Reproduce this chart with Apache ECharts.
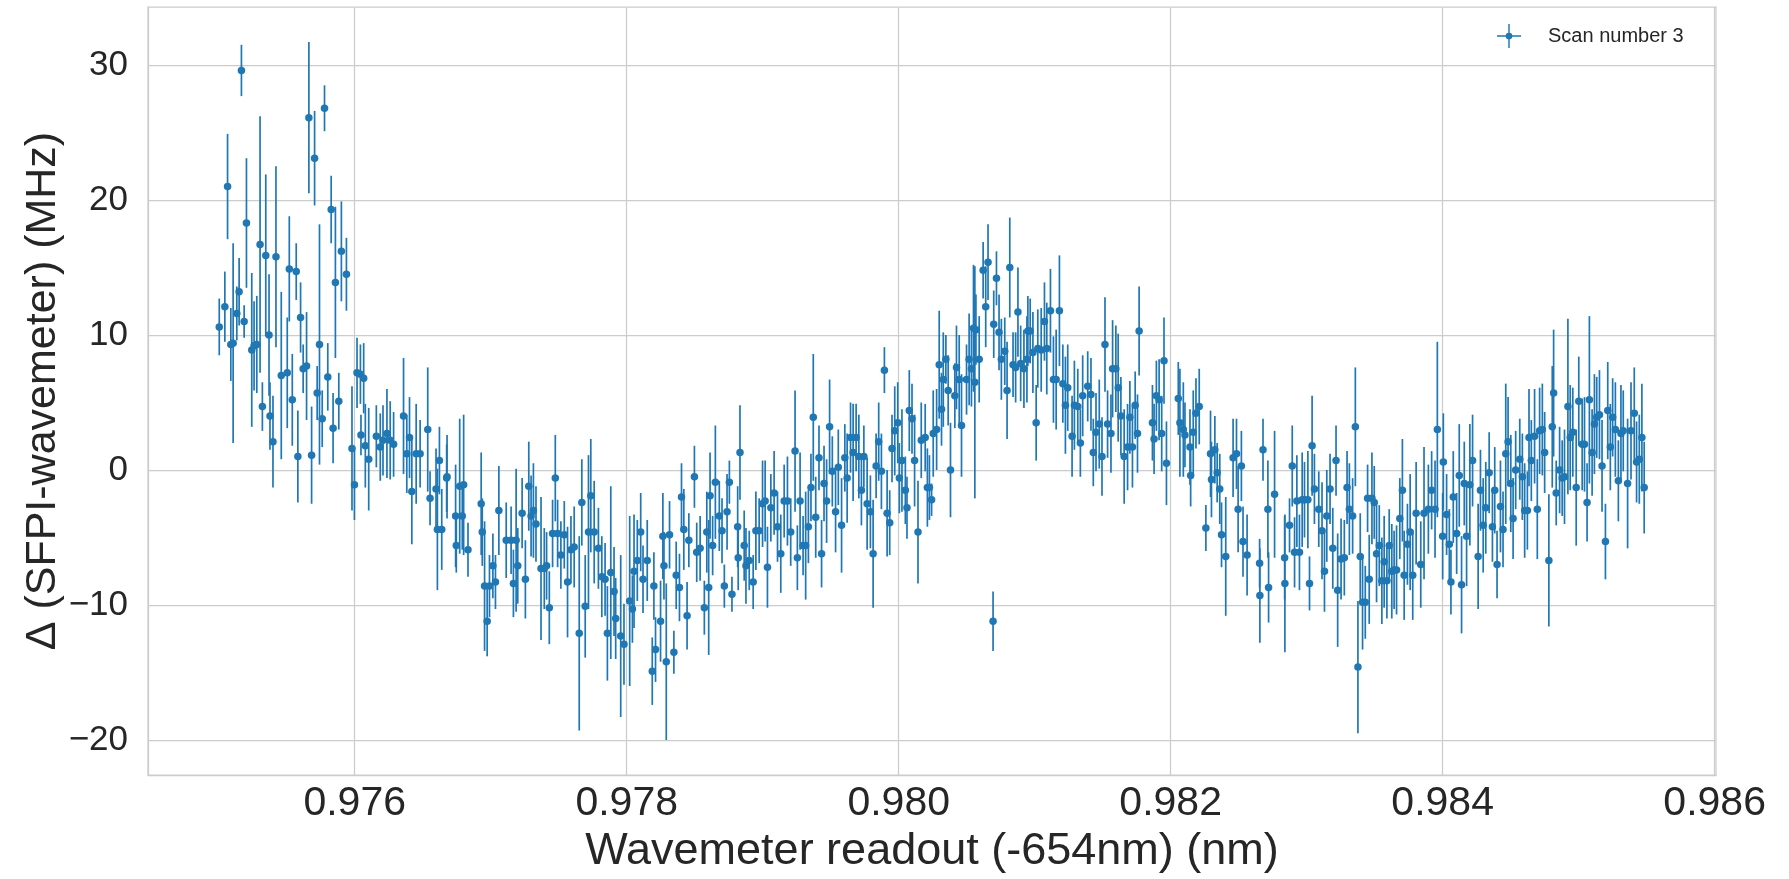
<!DOCTYPE html>
<html>
<head>
<meta charset="utf-8">
<title>Scan number 3</title>
<script src="https://cdn.jsdelivr.net/npm/echarts@6/dist/echarts.min.js"></script>
<style>
  html, body { margin: 0; padding: 0; background: #ffffff; }
  #chart { width: 1789px; height: 879px; }
</style>
</head>
<body>
<div id="chart"></div>
<script>
// Scan 3: [wavemeter readout (nm, -654nm offset), Δ SFPI-wavemeter (MHz), uncertainty (MHz)]
const scanPart1 = [
  [0.975004,10.6,2.1],[0.975045,12.1,2.6],[0.975065,21.0,3.9],[0.975089,9.3,2.7],[0.975106,9.4,7.4],
  [0.975133,11.6,2.0],[0.975150,13.2,2.5],[0.975167,29.6,1.9],[0.975187,11.0,1.2],[0.975204,18.3,4.8],
  [0.975243,8.9,5.7],[0.975260,9.2,3.3],[0.975280,9.3,3.6],[0.975304,16.7,9.5],[0.975321,4.7,1.8],
  [0.975346,15.9,6.0],[0.975370,10.0,4.5],[0.975377,4.0,2.5],[0.975399,2.1,3.4],[0.975421,15.8,6.7],
  [0.975460,7.0,6.2],[0.975504,7.2,4.1],[0.975519,14.9,3.9],[0.975541,5.2,3.4],[0.975570,14.7,2.1],
  [0.975582,1.0,3.4],[0.975602,11.3,2.6],[0.975621,7.5,1.8],[0.975646,7.7,4.0],[0.975663,26.1,5.6],
  [0.975683,1.1,3.6],[0.975705,23.1,3.5],[0.975724,5.7,2.0],[0.975741,9.3,8.9],[0.975761,3.8,2.1],
  [0.975778,26.8,1.7],[0.975802,6.9,2.5],[0.975827,19.3,2.5],[0.975841,3.1,2.6],[0.975858,13.9,5.6],
  [0.975883,5.1,2.1],[0.975902,16.2,3.7],[0.975939,14.5,2.7],[0.975980,1.6,4.6],[0.975998,-1.1,2.6],
  [0.976017,7.2,2.6],[0.976042,7.1,2.2],[0.976046,2.6,1.5],[0.976066,6.8,2.6],[0.976078,1.8,3.1],
  [0.976103,0.8,3.8],[0.976159,2.5,2.3],[0.976188,1.7,2.5],[0.976208,2.2,2.6],[0.976237,2.7,3.3],
  [0.976261,2.2,2.9],[0.976286,1.9,2.4],[0.976359,4.0,4.3],[0.976383,1.2,2.9],[0.976403,2.4,3.0],
  [0.976420,-1.6,3.9],[0.976452,1.2,3.7],[0.976481,1.2,2.5],[0.976537,3.0,4.6],[0.976554,-2.1,2.0],
  [0.976598,-1.4,3.0],[0.976608,-4.4,4.5],[0.976623,0.7,2.5],[0.976640,-4.4,3.0],[0.976676,-0.6,2.5]
];
const scanPart2 = [
  [0.976679,-0.5,3.1],[0.976742,-3.4,3.8],[0.976747,-5.6,2.0],[0.976772,-1.2,5.0],[0.976791,-3.4,2.5],
  [0.976801,-1.1,5.2],[0.976833,-5.9,2.0],[0.976930,-2.5,3.8],[0.976938,-4.6,2.5],[0.976955,-8.6,4.8],
  [0.976974,-11.2,2.6],[0.976991,-8.6,2.3],[0.977016,-7.1,2.4],[0.977035,-8.3,2.0],[0.977060,-3.0,3.3],
  [0.977114,-5.2,2.8],[0.977150,-5.2,2.5],[0.977167,-8.4,2.5],[0.977187,-5.2,5.3],[0.977199,-7.1,2.8],
  [0.977231,-3.2,2.6],[0.977255,-8.1,2.9],[0.977280,-1.2,3.3],[0.977297,-3.4,3.0],[0.977314,-3.0,3.5],
  [0.977333,-4.0,2.8],[0.977370,-7.3,5.3],[0.977394,-7.3,3.0],[0.977411,-7.1,2.5],[0.977431,-10.2,2.7],
  [0.977455,-4.7,2.5],[0.977475,-0.6,3.2],[0.977492,-4.7,2.5],[0.977516,-6.3,2.5],[0.977541,-4.8,2.5],
  [0.977565,-8.3,4.1],[0.977590,-5.9,2.5],[0.977614,-5.7,3.0],[0.977651,-12.1,7.2],[0.977670,-2.4,3.2],
  [0.977695,-10.1,3.8],[0.977719,-4.6,5.7],[0.977736,-1.9,4.2],[0.977761,-4.6,3.8],[0.977792,-5.8,3.0],
  [0.977817,-7.9,3.0],[0.977841,-8.1,2.7],[0.977858,-12.1,3.5],[0.977883,-7.6,6.4],[0.977907,-9.0,3.3],
  [0.977919,-11.0,3.0],[0.977956,-12.3,6.0],[0.977980,-12.9,3.0],[0.978022,-9.7,6.3],[0.978042,-10.3,2.5],
  [0.978054,-7.5,4.2],[0.978078,-6.7,3.0],[0.978103,-4.6,2.9],[0.978120,-8.1,2.5],[0.978151,-6.7,3.0],
  [0.978188,-14.9,2.5],[0.978200,-8.6,2.5],[0.978212,-13.3,2.4],[0.978249,-11.2,3.0],[0.978266,-4.9,3.2],
  [0.978274,-7.1,2.5],[0.978291,-14.2,5.8],[0.978315,-4.8,2.5],[0.978347,-13.5,1.6],[0.978364,-7.8,2.5],
  [0.978388,-8.7,2.5],[0.978403,-2.0,2.5],[0.978420,-4.4,3.0],[0.978444,-10.8,2.5]
];
const scanPart3 = [
  [0.978457,-5.2,2.0],[0.978498,-0.5,2.3],[0.978515,-6.1,2.2],[0.978540,-5.8,2.4],[0.978571,-10.2,2.0],
  [0.978589,-4.6,3.0],[0.978603,-8.7,5.0],[0.978613,-1.9,3.2],[0.978632,-5.6,2.2],[0.978652,-0.9,4.2],
  [0.978681,-3.4,2.6],[0.978701,-4.5,2.4],[0.978718,-8.6,1.6],[0.978738,-3.1,2.8],[0.978755,-0.9,1.6],
  [0.978774,-9.2,1.3],[0.978816,-4.2,3.0],[0.978820,-6.5,2.4],[0.978833,1.3,3.5],[0.978864,-5.6,2.6],
  [0.978877,-7.1,2.8],[0.978901,-6.7,2.2],[0.978930,-8.3,2.0],[0.978950,-4.5,2.9],[0.978974,-4.5,2.4],
  [0.978999,-2.5,3.2],[0.979018,-2.3,3.0],[0.979035,-7.2,3.0],[0.979060,-2.8,2.5],[0.979084,-1.7,3.1],
  [0.979109,-4.2,2.6],[0.979133,-6.2,2.9],[0.979158,-2.3,2.7],[0.979182,-2.3,3.3],[0.979206,-4.6,2.5],
  [0.979238,1.4,4.5],[0.979255,-6.5,2.4],[0.979275,-2.3,3.6],[0.979297,-5.6,2.2],[0.979316,-5.6,4.0],
  [0.979336,-4.2,2.7],[0.979355,-1.3,2.5],[0.979372,3.9,4.7],[0.979390,-3.5,3.0],[0.979414,0.9,2.4],
  [0.979433,-6.2,2.5],[0.979451,-1.0,2.8],[0.979470,-2.3,3.1],[0.979492,3.2,3.5],[0.979512,-0.1,2.6],
  [0.979536,-3.1,3.0],[0.979556,0.2,2.8],[0.979580,-4.1,3.5],[0.979604,0.9,2.5],[0.979621,-0.6,3.3],
  [0.979646,2.4,2.6],[0.979665,1.3,3.6],[0.979687,2.4,2.5],[0.979707,1.0,3.1],[0.979726,-1.5,2.6],
  [0.979744,1.0,2.3],[0.979768,-2.5,3.4],[0.979792,-3.1,2.7],[0.979812,-6.2,4.0],[0.979834,0.3,2.4],
  [0.979853,2.1,2.9],[0.979873,-0.1,2.8],[0.979895,7.4,1.7],[0.979915,-3.2,3.2],[0.979934,-3.9,2.4],
  [0.979951,1.6,2.5],[0.979971,2.9,3.3],[0.979993,3.5,3.0],[0.980005,-0.6,2.6],[0.980024,0.7,3.8],
  [0.980049,-1.5,2.5],[0.980061,-2.8,2.3],[0.980078,4.4,3.0],[0.980098,3.8,2.6],[0.980117,0.7,3.4],
  [0.980142,-4.6,3.8],[0.980166,2.2,2.8],[0.980195,2.4,2.5]
];
const scanPart4 = [
  [0.980211,-1.3,2.9],[0.980226,-1.3,2.4],[0.980242,-2.2,1.2],[0.980254,2.7,3.2],[0.980279,3.0,3.0],
  [0.980298,7.8,4.0],[0.980315,4.5,2.7],[0.980328,6.7,3.5],[0.980347,8.2,1.8],[0.980364,5.9,2.6],
  [0.980381,0.0,3.5],[0.980413,5.5,2.4],[0.980425,7.6,3.1],[0.980445,6.7,3.3],[0.980462,3.3,3.8],
  [0.980499,6.7,2.6],[0.980518,8.2,3.4],[0.980535,7.5,2.8],[0.980550,10.5,4.7],[0.980560,6.5,8.6],
  [0.980568,10.4,2.6],[0.980592,8.2,3.2],[0.980621,14.8,2.1],[0.980640,12.1,3.0],[0.980657,15.4,2.8],
  [0.980694,-11.2,2.2],[0.980699,10.8,2.5],[0.980719,14.2,2.0],[0.980738,10.2,2.8],[0.980755,8.2,3.0],
  [0.980780,8.8,2.5],[0.980797,5.9,3.6],[0.980817,15.0,3.7],[0.980841,7.8,2.4],[0.980860,7.6,2.6],
  [0.980877,11.7,3.3],[0.980897,7.9,2.8],[0.980921,7.5,2.9],[0.980943,8.2,3.2],[0.980950,10.3,2.6],
  [0.980967,10.3,2.4],[0.980987,8.7,3.0],[0.981011,3.5,2.8],[0.981023,9.0,2.9],[0.981048,8.9,3.1],
  [0.981072,11.0,2.9],[0.981089,9.0,3.4],[0.981116,11.8,3.1],[0.981138,6.7,3.2],[0.981158,6.7,3.7],
  [0.981182,11.8,4.1],[0.981207,6.4,2.9],[0.981226,4.8,3.6],[0.981243,6.1,3.2],[0.981275,2.5,3.0],
  [0.981292,4.8,3.3],[0.981317,4.7,2.8],[0.981336,2.0,2.5],[0.981353,5.5,3.0],[0.981390,6.2,2.6],
  [0.981414,5.6,2.7],[0.981431,1.3,2.5],[0.981451,2.8,2.9],[0.981475,3.4,3.3],[0.981495,1.0,2.9],
  [0.981517,9.3,3.5],[0.981536,3.4,2.5],[0.981561,2.7,2.9],[0.981573,7.5,3.6],[0.981597,7.5,3.2],
  [0.981614,6.1,4.0],[0.981634,4.0,2.9],[0.981658,1.0,3.5],[0.981683,1.7,3.2],[0.981700,3.9,2.7],
  [0.981719,1.7,3.0],[0.981739,4.8,2.5],[0.981756,2.7,2.9],[0.981768,10.3,3.3],[0.981866,3.5,2.8],
  [0.981878,2.3,2.6],[0.981895,5.5,2.6],[0.981915,5.2,3.0],[0.981934,2.7,2.8],[0.981951,8.1,3.2],
  [0.981969,0.5,3.1]
];
const scanPart5 = [
  [0.982056,5.3,2.7],[0.982068,3.5,4.0],[0.982093,3.0,3.5],[0.982105,2.6,2.4],[0.982142,1.7,2.8],
  [0.982147,-0.4,2.3],[0.982166,2.8,3.1],[0.982186,4.2,2.6],[0.982210,4.7,2.8],[0.982259,-4.3,1.7],
  [0.982293,1.2,3.2],[0.982300,-0.7,2.8],[0.982325,1.5,2.5],[0.982342,-0.2,2.2],[0.982361,-1.4,2.6],
  [0.982374,-4.8,2.4],[0.982405,-6.4,4.4],[0.982459,0.9,2.9],[0.982484,1.2,2.6],[0.982496,-2.9,3.2],
  [0.982520,0.3,2.6],[0.982532,-5.3,2.6],[0.982562,-6.3,3.0],[0.982654,-6.9,1.8],[0.982656,-9.3,3.5],
  [0.982679,1.5,2.3],[0.982715,-2.9,3.6],[0.982720,-8.7,2.6],[0.982764,-1.8,4.7],[0.982838,-6.5,3.1],
  [0.982840,-8.4,5.1],[0.982874,-4.1,2.0],[0.982894,0.3,3.0],[0.982911,-6.1,2.6],[0.982928,-2.3,3.4],
  [0.982947,-6.1,2.8],[0.982967,-2.2,3.5],[0.982984,-2.2,2.8],[0.983009,-2.2,3.6],[0.983021,-8.4,2.0],
  [0.983040,1.8,3.7],[0.983057,-1.4,2.6],[0.983089,-2.9,2.8],[0.983113,-4.5,3.6],[0.983131,-7.5,3.0],
  [0.983148,-3.4,3.4],[0.983172,-1.4,2.6],[0.983192,-5.8,3.0],[0.983216,0.7,2.6],[0.983228,-8.9,4.2],
  [0.983253,-6.6,3.0],[0.983277,-6.5,2.8],[0.983297,-1.3,2.7],[0.983314,-2.9,3.4],[0.983338,-3.4,2.8],
  [0.983358,3.2,4.4],[0.983377,-14.6,4.9],[0.983394,-6.4,3.2],[0.983411,-9.8,3.5],[0.983431,-9.8,2.7],
  [0.983448,-2.1,2.5],[0.983460,-8.1,3.3],[0.983480,-2.1,3.4],[0.983497,-2.4,2.7],[0.983514,-6.2,3.6],
  [0.983534,-5.6,3.0],[0.983553,-8.2,3.2],[0.983570,-6.8,3.4],[0.983590,-8.2,2.8],[0.983607,-5.6,2.7],
  [0.983626,-7.5,3.5],[0.983643,-7.4,2.9],[0.983661,-7.4,3.3],[0.983685,-3.6,3.0],[0.983704,-1.5,3.8],
  [0.983717,-7.8,3.3]
];
const scanPart6 = [
  [0.983741,-5.5,3.0],[0.983761,-4.6,4.3],[0.983780,-7.8,3.3],[0.983805,-3.2,3.8],[0.983839,-7.0,3.2],
  [0.983863,-3.2,4.9],[0.983895,-2.9,3.3],[0.983919,-1.5,2.9],[0.983944,-2.9,3.6],[0.983961,3.0,6.5],
  [0.984000,-4.9,3.2],[0.984005,0.6,3.6],[0.984029,-3.3,3.0],[0.984049,-5.5,2.6],[0.984061,-8.3,2.4],
  [0.984078,-2.0,3.4],[0.984103,-4.7,3.0],[0.984122,-0.4,3.8],[0.984139,-8.5,3.6],[0.984159,-1.0,3.1],
  [0.984176,-4.9,3.7],[0.984200,-1.1,4.5],[0.984220,0.7,3.4],[0.984261,-6.4,3.9],[0.984278,-1.5,3.0],
  [0.984298,-4.1,3.5],[0.984317,-2.8,3.4],[0.984342,-0.2,3.0],[0.984366,-4.2,2.6],[0.984383,-1.5,3.2],
  [0.984400,-7.0,2.5],[0.984425,-2.7,3.4],[0.984444,-4.4,2.8],[0.984464,1.2,5.2],[0.984481,2.1,3.3],
  [0.984501,-1.0,3.6],[0.984518,-3.6,3.0],[0.984537,0.0,2.9],[0.984567,0.8,3.0],[0.984586,-0.5,3.2],
  [0.984603,-3.0,3.5],[0.984623,-3.0,2.9],[0.984635,2.4,3.6],[0.984652,0.7,3.0],[0.984676,2.5,3.5],
  [0.984696,-2.9,3.7],[0.984713,2.9,3.2],[0.984733,3.0,3.4],[0.984750,1.3,3.0],[0.984781,-6.7,4.9],
  [0.984806,3.2,4.5],[0.984816,5.7,4.7],[0.984835,-1.7,2.4],[0.984860,0.0,3.2],[0.984879,-0.6,2.8],
  [0.984896,-0.5,3.5],[0.984921,4.7,6.5],[0.984938,2.4,3.9],[0.984957,2.8,3.3],[0.984982,-1.3,4.3],
  [0.985001,5.1,3.3],[0.985026,1.9,3.4],[0.985043,1.9,3.5],[0.985062,-2.4,2.9],[0.985079,5.2,6.2],
  [0.985099,1.3,3.2],[0.985116,3.4,3.7],[0.985133,3.9,3.0],[0.985153,4.1,3.3],[0.985172,0.3,3.4],
  [0.985197,-5.3,2.8],[0.985214,4.4,3.6],[0.985233,1.7,3.2],[0.985250,3.9,2.9],[0.985270,3.0,3.5],
  [0.985292,-0.8,3.0],[0.985311,2.7,3.6],[0.985328,2.9,3.0],[0.985360,-1.0,4.8],[0.985385,2.9,3.6],
  [0.985409,4.2,3.4],[0.985426,0.6,3.0],[0.985446,0.8,3.3],[0.985465,2.4,4.0],[0.985482,-1.3,3.4]
];

const xTicks = [0.976, 0.978, 0.980, 0.982, 0.984, 0.986];
const yTicks = [-20, -10, 0, 10, 20, 30];
const seriesName = 'Scan number 3';

const scan = [].concat(scanPart1, scanPart2, scanPart3, scanPart4, scanPart5, scanPart6);

const BLUE = '#1f77b4';
const GRID = '#cccccc';
const TEXT = '#262626';
const FONT = '"Liberation Sans", Arial, Helvetica, sans-serif';

const chart = echarts.init(document.getElementById('chart'), null, { renderer: 'canvas' });

chart.setOption({
  animation: false,
  backgroundColor: '#ffffff',
  textStyle: { fontFamily: FONT },
  grid: {
    left: 148, right: 73, top: 7, bottom: 94,
    show: true, borderColor: GRID, borderWidth: 1.25, backgroundColor: '#ffffff'
  },
  legend: {
    left: 1492, top: 19,
    itemWidth: 24, itemHeight: 26,
    itemGap: 0,
    data: [{
      name: seriesName,
      icon: 'path://M0,47L100,47L100,53L0,53Z M47,0L53,0L53,100L47,100Z M50,36A14,14 0 1,1 49.9,36Z',
      itemStyle: { color: BLUE }
    }],
    textStyle: { fontSize: 20, color: TEXT, fontFamily: FONT, padding: [0, 0, 0, 22] }
  },
  xAxis: {
    type: 'value',
    min: 0.97448, max: 0.98601,
    name: 'Wavemeter readout (-654nm) (nm)',
    nameLocation: 'middle', nameGap: 46,
    nameTextStyle: { fontSize: 45, color: TEXT, fontFamily: FONT },
    axisLine: { show: true, onZero: false, lineStyle: { color: GRID, width: 1.25 } },
    axisTick: { show: false, customValues: xTicks },
    axisLabel: {
      customValues: xTicks, fontSize: 41, color: TEXT, fontFamily: FONT, margin: 8,
      formatter: v => v.toFixed(3)
    },
    splitLine: { show: true, lineStyle: { color: GRID, width: 1.25 } }
  },
  yAxis: {
    type: 'value',
    min: -22.6, max: 34.3,
    name: 'Δ (SFPI-wavemeter) (MHz)',
    nameLocation: 'middle', nameGap: 83, nameRotate: 90,
    nameMoveOverlap: false,
    nameTextStyle: { fontSize: 43, color: TEXT, fontFamily: FONT },
    axisLine: { show: true, onZero: false, lineStyle: { color: GRID, width: 1.25 } },
    axisTick: { show: false, customValues: yTicks },
    axisLabel: {
      customValues: yTicks, fontSize: 35, color: TEXT, fontFamily: FONT, margin: 20,
      formatter: v => (v < 0 ? '\u2212' + Math.abs(v) : String(v))
    },
    splitLine: { show: true, lineStyle: { color: GRID, width: 1.25 } }
  },
  series: [
    {
      // vertical error bars, y ± uncertainty
      type: 'custom',
      name: seriesName,
      data: scan,
      encode: { x: 0, y: 1 },
      silent: true,
      z: 2,
      renderItem: function (params, api) {
        const x = api.value(0), y = api.value(1), e = api.value(2);
        const hi = api.coord([x, y + e]);
        const lo = api.coord([x, y - e]);
        return {
          type: 'line',
          shape: { x1: hi[0], y1: hi[1], x2: lo[0], y2: lo[1] },
          style: { stroke: BLUE, lineWidth: 1.7 }
        };
      }
    },
    {
      type: 'scatter',
      name: seriesName,
      data: scan.map(p => [p[0], p[1]]),
      symbol: 'circle',
      symbolSize: 7.5,
      itemStyle: { color: BLUE, opacity: 1 },
      z: 3
    }
  ]
});
</script>
</body>
</html>
